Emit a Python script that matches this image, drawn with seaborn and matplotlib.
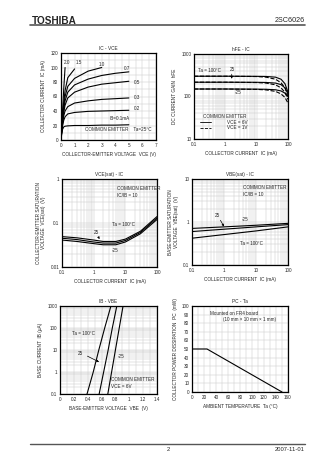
import matplotlib
matplotlib.use("Agg")
import matplotlib.pyplot as plt
from matplotlib.ticker import FixedLocator, NullFormatter, LogLocator, MultipleLocator
import numpy as np
import pandas as pd
import seaborn as sns

sns.set_style("white")
plt.rcParams["font.family"] = ["Liberation Sans", "DejaVu Sans"]

# ---------------- data ----------------
# IC - VCE (Ta = 25 C)
vce = [0, 0.05, 0.1, 0.2, 0.3, 0.5, 1, 2, 3, 4, 5]
ic_ib01 = [0, 8, 14, 18, 19, 19.5, 20, 20, 20.5, 20.5, 21]
ic_ib02 = [0, 10, 18, 27, 32, 36, 38, 39.5, 40, 40.5, 41]
ic_ib03 = [0, 11, 20, 33, 40, 46, 51, 54, 56, 57, 58]
ic_ib05 = [0, 12, 23, 38, 48, 58, 66, 73, 77, 79, 81]
ic_ib07 = [0, 13, 25, 42, 54, 66, 76, 84, 89, 92, 94]
ic_ib10 = [0, 14, 27, 46, 60, 74, 85, 95, 100]
ic_ib15 = [0, 15, 30, 52, 68, 86, 98]
ic_ib20 = [0, 17, 35, 70, 100]
ib_labels = ["2.0", "1.5", "1.0", "0.7", "0.5", "0.3", "0.2", "IB=0.1mA"]

# hFE - IC
ic_h = [0.1, 1, 10, 20, 40, 60, 80, 100]
hfe_100_6v = [300, 300, 298, 296, 285, 255, 200, 125]
hfe_25_6v = [217, 217, 216, 214, 207, 190, 160, 115]
hfe_m25_6v = [150, 150, 149, 148, 144, 135, 120, 100]
hfe_100_1v = [300, 300, 295, 285, 255, 210, 160, 100]
hfe_25_1v = [217, 217, 213, 207, 188, 160, 125, 85]
hfe_m25_1v = [150, 150, 147, 143, 132, 115, 95, 70]

# VCE(sat) - IC
ic_s = [0.1, 0.3, 1, 2, 5, 10, 30, 100]
vcesat_100 = [0.049, 0.046, 0.041, 0.038, 0.038, 0.043, 0.065, 0.14]
vcesat_25 = [0.045, 0.042, 0.037, 0.035, 0.035, 0.040, 0.061, 0.13]
vcesat_m25 = [0.041, 0.038, 0.034, 0.032, 0.032, 0.037, 0.057, 0.12]

# VBE(sat) - IC
ic_b = [0.1, 1, 10, 100]
vbesat_m25 = [0.71, 0.77, 0.84, 0.93]
vbesat_25 = [0.60, 0.68, 0.77, 0.87]
vbesat_100 = [0.42, 0.51, 0.62, 0.77]

# IB - VBE
ib = [0.1, 1, 10, 100, 1000]
vbe_100 = [0.39, 0.48, 0.56, 0.645, 0.735]
vbe_25 = [0.565, 0.63, 0.695, 0.755, 0.82]
vbe_m25 = [0.69, 0.745, 0.80, 0.855, 0.91]

# PC - Ta
ta = [0, 25, 150]
pc = [50, 50, 0]

# ---------------- layout ----------------
W, H = 336, 475
fig = plt.figure(figsize=(W / 100, H / 100), dpi=100)
fig.patch.set_facecolor("white")

FS_T = 3.3   # tick labels
FS_L = 3.4   # axis labels
FS_A = 3.3   # annotations
LW = 0.8
GRID = "#c8c8c8"


def box(x0, y0, x1, y1):
    return fig.add_axes([x0 / W, 1 - y1 / H, (x1 - x0) / W, (y1 - y0) / H])


def style(ax, title, xlabel, ylabel):
    ax.set_title(title, fontsize=FS_L, pad=2.5)
    ax.set_xlabel(xlabel, fontsize=FS_L, labelpad=3)
    ax.set_ylabel(ylabel, fontsize=FS_L, labelpad=3)
    ax.tick_params(labelsize=FS_T, length=0, pad=2)
    ax.tick_params(which="minor", length=0)
    ax.grid(True, which="both", color=GRID, lw=0.35)
    ax.set_axisbelow(True)
    for s in ax.spines.values():
        s.set_linewidth(0.9)
        s.set_color("black")


def curve(ax, x, y, ls="-"):
    sns.lineplot(x=x, y=y, ax=ax, color="black", lw=LW, linestyle=ls,
                 legend=False, estimator=None, sort=False)


def logfmt(ax, axis, vals):
    labels = [("%g" % v) for v in vals]
    if axis == "x":
        ax.set_xticks(vals)
        ax.set_xticklabels(labels)
        ax.xaxis.set_minor_locator(LogLocator(base=10, subs=np.arange(2, 10)))
        ax.xaxis.set_minor_formatter(NullFormatter())
    else:
        ax.set_yticks(vals)
        ax.set_yticklabels(labels)
        ax.yaxis.set_minor_locator(LogLocator(base=10, subs=np.arange(2, 10)))
        ax.yaxis.set_minor_formatter(NullFormatter())


# ---- header / footer ----
fig.text(32 / W, 1 - 21 / H, "TOSHIBA", fontsize=7.2, fontweight="bold",
         va="center", ha="left", family=["Liberation Sans"])
fig.text(305 / W, 1 - 21 / H, "2SC6026", fontsize=5.2, va="center", ha="right")
fig.add_artist(plt.Line2D([30 / W, 305 / W], [1 - 24.5 / H] * 2, color="#555555", lw=1.2))
fig.add_artist(plt.Line2D([30 / W, 305 / W], [1 - 444 / H] * 2, color="#555555", lw=1.0))
fig.text(168 / W, 1 - 449.5 / H, "2", fontsize=4.2, va="center", ha="center")
fig.text(305 / W, 1 - 449.5 / H, "2007-11-01", fontsize=4.2, va="center", ha="right")

# ---- IC - VCE ----
ax1 = box(61, 53, 156, 140)
for yy, xx in [(ic_ib01, vce), (ic_ib02, vce), (ic_ib03, vce), (ic_ib05, vce),
               (ic_ib07, vce), (ic_ib10, vce[:len(ic_ib10)]),
               (ic_ib15, vce[:len(ic_ib15)]), (ic_ib20, vce[:len(ic_ib20)])]:
    curve(ax1, xx, yy)
ax1.set_xlim(0, 7)
ax1.set_ylim(0, 120)
ax1.set_xticks(range(0, 8))
ax1.set_yticks(range(0, 121, 20))
ax1.xaxis.set_minor_locator(MultipleLocator(0.5))
ax1.yaxis.set_minor_locator(MultipleLocator(10))
style(ax1, "IC - VCE", "COLLECTOR-EMITTER VOLTAGE  VCE (V)", "COLLECTOR CURRENT  IC (mA)")
ib_pos = [(0.45, 107), (1.35, 107), (3.0, 104), (4.9, 98), (5.6, 80), (5.6, 58), (5.6, 43), (4.3, 30)]
for lab, (px, py) in zip(ib_labels, ib_pos):
    ax1.text(px, py, lab, fontsize=FS_A, ha="center", va="center")
ax1.text(1.8, 14, "COMMON EMITTER    Ta=25\u00b0C", fontsize=FS_A, ha="left", va="center")

# ---- hFE - IC ----
ax2 = box(194, 54, 288, 139)
curve(ax2, ic_h, hfe_100_6v)
curve(ax2, ic_h, hfe_25_6v)
curve(ax2, ic_h, hfe_m25_6v)
curve(ax2, ic_h, hfe_100_1v, "--")
curve(ax2, ic_h, hfe_25_1v, "--")
curve(ax2, ic_h, hfe_m25_1v, "--")
ax2.set_xscale("log")
ax2.set_yscale("log")
ax2.set_xlim(0.1, 100)
ax2.set_ylim(10, 1000)
logfmt(ax2, "x", [0.1, 1, 10, 100])
logfmt(ax2, "y", [10, 100, 1000])
style(ax2, "hFE - IC", "COLLECTOR CURRENT  IC (mA)", "DC CURRENT GAIN  hFE")
ax2.text(0.13, 420, "Ta = 100\u00b0C", fontsize=FS_A, ha="left", va="center")
ax2.text(1.7, 430, "25", fontsize=FS_A, ha="center", va="center")
ax2.annotate("", xy=(1.6, 225), xytext=(1.6, 390),
             arrowprops=dict(arrowstyle="-|>", lw=0.5, color="black", mutation_scale=3))
ax2.text(2.6, 125, "-25", fontsize=FS_A, ha="center", va="center")
ax2.text(0.2, 33, "COMMON EMITTER", fontsize=FS_A, ha="left", va="center")
ax2.plot([0.15, 0.35], [25, 25], color="black", lw=0.6)
ax2.plot([0.15, 0.35], [18.5, 18.5], color="black", lw=0.6, ls="--")
ax2.text(1.1, 25, "VCE = 6V", fontsize=FS_A, ha="left", va="center")
ax2.text(1.1, 18.5, "VCE = 1V", fontsize=FS_A, ha="left", va="center")

# ---- VCE(sat) - IC ----
ax3 = box(62, 179, 157, 267)
curve(ax3, ic_s, vcesat_100)
curve(ax3, ic_s, vcesat_25)
curve(ax3, ic_s, vcesat_m25)
ax3.set_xscale("log")
ax3.set_yscale("log")
ax3.set_xlim(0.1, 100)
ax3.set_ylim(0.01, 1)
logfmt(ax3, "x", [0.1, 1, 10, 100])
logfmt(ax3, "y", [0.01, 0.1, 1])
style(ax3, "VCE(sat) - IC", "COLLECTOR CURRENT  IC (mA)",
      "COLLECTOR-EMITTER SATURATION\nVOLTAGE  VCE(sat)  (V)")
ax3.text(5.5, 0.6, "COMMON EMITTER", fontsize=FS_A, ha="left", va="center")
ax3.text(5.5, 0.43, "IC/IB = 10", fontsize=FS_A, ha="left", va="center")
ax3.text(3.8, 0.093, "Ta = 100\u00b0C", fontsize=FS_A, ha="left", va="center")
ax3.text(1.2, 0.06, "25", fontsize=FS_A, ha="center", va="center")
ax3.annotate("", xy=(1.7, 0.038), xytext=(1.3, 0.053),
             arrowprops=dict(arrowstyle="-|>", lw=0.5, color="black", mutation_scale=3))
ax3.text(4.7, 0.024, "-25", fontsize=FS_A, ha="center", va="center")

# ---- VBE(sat) - IC ----
ax4 = box(192, 179, 288, 265)
curve(ax4, ic_b, vbesat_m25)
curve(ax4, ic_b, vbesat_25)
curve(ax4, ic_b, vbesat_100)
ax4.set_xscale("log")
ax4.set_yscale("log")
ax4.set_xlim(0.1, 100)
ax4.set_ylim(0.1, 10)
logfmt(ax4, "x", [0.1, 1, 10, 100])
logfmt(ax4, "y", [0.1, 1, 10])
style(ax4, "VBE(sat) - IC", "COLLECTOR CURRENT  IC (mA)",
      "BASE-EMITTER SATURATION\nVOLTAGE  VBE(sat)  (V)")
ax4.text(4.0, 6.2, "COMMON EMITTER", fontsize=FS_A, ha="left", va="center")
ax4.text(4.0, 4.4, "IC/IB = 10", fontsize=FS_A, ha="left", va="center")
ax4.text(0.63, 1.45, "25", fontsize=FS_A, ha="center", va="center")
ax4.annotate("", xy=(1.1, 0.69), xytext=(0.7, 1.25),
             arrowprops=dict(arrowstyle="-|>", lw=0.5, color="black", mutation_scale=3))
ax4.text(4.5, 1.15, "-25", fontsize=FS_A, ha="center", va="center")
ax4.text(3.2, 0.32, "Ta = 100\u00b0C", fontsize=FS_A, ha="left", va="center")

# ---- IB - VBE ----
ax5 = box(60, 306, 157, 394)
curve(ax5, vbe_100, ib)
curve(ax5, vbe_25, ib)
curve(ax5, vbe_m25, ib)
ax5.set_yscale("log")
ax5.set_xlim(0, 1.4)
ax5.set_ylim(0.1, 1000)
ax5.set_xticks(np.round(np.arange(0, 1.41, 0.2), 1))
ax5.set_xticklabels(["0", "0.2", "0.4", "0.6", "0.8", "1", "1.2", "1.4"])
ax5.xaxis.set_minor_locator(MultipleLocator(0.1))
logfmt(ax5, "y", [0.1, 1, 10, 100, 1000])
style(ax5, "IB - VBE", "BASE-EMITTER VOLTAGE  VBE  (V)", "BASE CURRENT  IB (\u03bcA)")
ax5.text(0.17, 57, "Ta = 100\u00b0C", fontsize=FS_A, ha="left", va="center")
ax5.text(0.3, 7, "25", fontsize=FS_A, ha="center", va="center")
ax5.annotate("", xy=(0.6, 2.5), xytext=(0.36, 6),
             arrowprops=dict(arrowstyle="-|>", lw=0.5, color="black", mutation_scale=3))
ax5.text(0.88, 5, "-25", fontsize=FS_A, ha="center", va="center")
ax5.text(0.74, 0.45, "COMMON EMITTER", fontsize=FS_A, ha="left", va="center")
ax5.text(0.74, 0.22, "VCE = 6V", fontsize=FS_A, ha="left", va="center")

# ---- PC - Ta ----
ax6 = box(192, 306, 288, 392)
curve(ax6, ta, pc)
ax6.set_xlim(0, 160)
ax6.set_ylim(0, 100)
ax6.set_xticks(range(0, 161, 20))
ax6.set_yticks(range(0, 101, 10))
ax6.xaxis.set_minor_locator(MultipleLocator(10))
style(ax6, "PC - Ta", "AMBIENT TEMPERATURE  Ta (\u00b0C)",
      "COLLECTOR POWER DISSIPATION  PC  (mW)")
ax6.text(30, 91.5, "Mounted on FR4 board", fontsize=FS_A, ha="left", va="center")
ax6.text(52, 84.5, "(10 mm \u00d7 10 mm \u00d7 1 mm)", fontsize=FS_A, ha="left", va="center")

fig.savefig("out.png", dpi=100, facecolor="white")
